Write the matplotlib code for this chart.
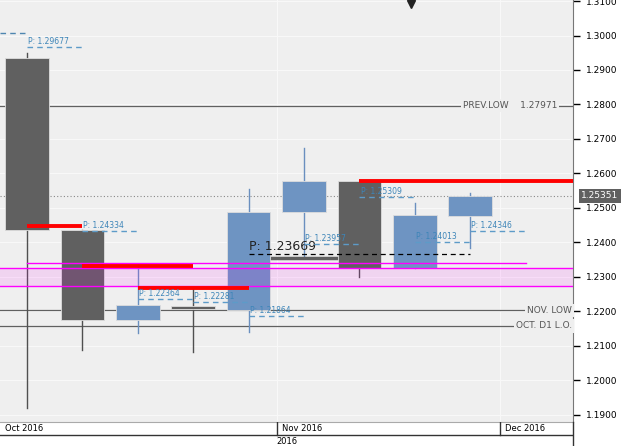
import numpy as np
import matplotlib.pyplot as plt
from matplotlib.patches import Rectangle

# weekly candles, Oct - Nov 2016
opens  = [1.2935, 1.2436, 1.2175, 1.2216, 1.2204, 1.2488, 1.2578, 1.2326, 1.2477]
highs  = [1.2949, 1.2436, 1.2334, 1.2268, 1.2556, 1.2674, 1.2578, 1.2514, 1.2543]
lows   = [1.1920, 1.2088, 1.2138, 1.2083, 1.2141, 1.2355, 1.2300, 1.2326, 1.2384]
closes = [1.2436, 1.2175, 1.2219, 1.2207, 1.2488, 1.2578, 1.2326, 1.2480, 1.2535]

# pivot of each week, drawn over the following week
pivots = [1.29677, 1.24334, 1.22364, 1.22281, 1.21864, 1.23957, 1.25309, 1.24013, 1.24346]
prev_pivot = 1.3007

# red open-level segments (start week, end week, price)
red_lines = [(0, 1, 1.2449), (1, 3, 1.2332), (2, 4, 1.2268), (6, 9.9, 1.2578)]

big_pivot = 1.23669
big_pivot_base = 1.2355
zone_lo, zone_hi = 1.2274, 1.2326
zone_line = 1.2341
prev_low = 1.27971
nov_low = 1.2204
oct_d1 = 1.2158
last_price = 1.25351

months = ["Oct 2016", "Nov 2016", "Dec 2016"]
month_pos = [-0.487, 4.51, 8.54]

ticks = np.round(np.arange(1.19, 1.3101, 0.01), 2)

W, H = 625, 446
fig = plt.figure(figsize=(W / 100, H / 100), dpi=100, facecolor='white')
ax = fig.add_axes([0, 24 / H, 573 / W, 422 / H])
ax.set_facecolor('#efefef')
x0, x1 = -0.487, 9.855
ax.set_xlim(x0, x1)
ax.set_ylim(1.18797, 1.31029)

# grid
for t in ticks:
    ax.axhline(t, color='#f8f8f8', lw=0.8, zorder=0)
for m in month_pos[1:]:
    ax.axvline(m, color='#f8f8f8', lw=0.8, zorder=0)

# candles
bw = 0.79
for i in range(len(opens)):
    o, h, l, c = opens[i], highs[i], lows[i], closes[i]
    up = c >= o
    col = '#6e94c2' if up else '#606060'
    wick = '#6a8fbf' if up else '#505050'
    ax.plot([i, i], [l, h], color=wick, lw=1, zorder=2)
    ax.add_patch(Rectangle((i - bw / 2, min(o, c)), bw, max(abs(c - o), 0.0008),
                           facecolor=col, edgecolor='#dddddd', lw=0.6, zorder=3))

# zone
ax.axhspan(zone_lo, zone_hi, color='magenta', alpha=0.11, lw=0, zorder=4)
ax.axhline(zone_lo, color='magenta', lw=1, zorder=4)
ax.axhline(zone_hi, color='magenta', lw=1, zorder=4)
ax.plot([0, 9], [zone_line, zone_line], color='magenta', lw=1, zorder=4)

# level lines with labels
ax.axhline(prev_low, color='#606060', lw=0.9, zorder=1)
ax.axhline(nov_low, color='#606060', lw=0.9, zorder=1)
ax.axhline(oct_d1, color='#606060', lw=0.9, zorder=1)
box = dict(facecolor='#efefef', edgecolor='none', pad=1.5)
ax.text(9.57, prev_low, "PREV.LOW    %.5f" % prev_low, ha='right', va='center',
        fontsize=6.5, color='#555555', bbox=box, zorder=5)
ax.text(x1 - 0.02, nov_low, "NOV. LOW", ha='right', va='center',
        fontsize=6.5, color='#555555', bbox=box, zorder=5)
ax.text(x1 - 0.02, oct_d1, "OCT. D1 L.O.", ha='right', va='center',
        fontsize=6.5, color='#555555', bbox=box, zorder=5)

# last price
ax.axhline(last_price, color='#888888', lw=0.8, ls=(0, (1, 2)), zorder=1)

# big pivot
ax.plot([4, 6], [big_pivot_base, big_pivot_base], color='#606060', lw=2.5, zorder=2)
ax.plot([4, 8], [big_pivot, big_pivot], color='black', lw=0.9, ls=(0, (4, 3)), zorder=6)
ax.text(4, big_pivot + 0.0003, "P: %.5f" % big_pivot, fontsize=9, color='#222222',
        ha='left', va='bottom', zorder=6)

# red lines
for a, b, y in red_lines:
    ax.plot([a, b], [y, y], color='#ff0000', lw=2.8, solid_capstyle='butt', zorder=6)

# weekly pivots
ax.plot([x0, 0], [prev_pivot, prev_pivot], color='#4f86b0', lw=1, ls=(0, (4, 3)), zorder=6)
for i, p in enumerate(pivots):
    ax.plot([i, i + 1], [p, p], color='#5d9bc8', lw=1, ls=(0, (4, 3)), zorder=6)
    ax.text(i + 0.02, p + 0.0003, "P: %.5f" % p, fontsize=5.5, color='#3d85b8',
            ha='left', va='bottom', zorder=6)

# marker on top
ax.plot([6.93], [1.3092], marker='v', color='#222222', ms=6, clip_on=False, zorder=7)

# price axis on the right
ax.yaxis.tick_right()
ax.set_yticks(ticks)
ax.set_yticklabels(["%.4f" % t for t in ticks])
ax.tick_params(axis='y', length=5, width=1, pad=4, labelsize=6.5, colors='black')
ax.set_xticks([])
for s in ['top', 'left']:
    ax.spines[s].set_visible(False)
ax.spines['right'].set_color('#777777')
ax.spines['bottom'].set_color('#aaaaaa')

fig.text(600 / W, 1 - 196 / H, "%.5f" % last_price, fontsize=6.5, color='white',
         ha='center', va='center',
         bbox=dict(facecolor='#606060', edgecolor='none', pad=1.5))

# time axis
axb = fig.add_axes([0, 0, 573 / W, 24 / H])
axb.set_xlim(x0, x1)
axb.set_ylim(0, 24)
axb.axis('off')
axb.axhline(11, color='#333333', lw=1)
for m, lab in zip(month_pos, months):
    if m > x0:
        axb.plot([m, m], [11, 24], color='#333333', lw=1)
    axb.text(m + 0.09, 17.5, lab, fontsize=6, ha='left', va='center')
axb.text(month_pos[1], 5, "2016", fontsize=6, ha='left', va='center')
fig.add_artist(plt.Line2D([573 / W, 573 / W], [0, 24 / H], color='#333333', lw=1))

fig.savefig('out.png', dpi=100, facecolor='white')
